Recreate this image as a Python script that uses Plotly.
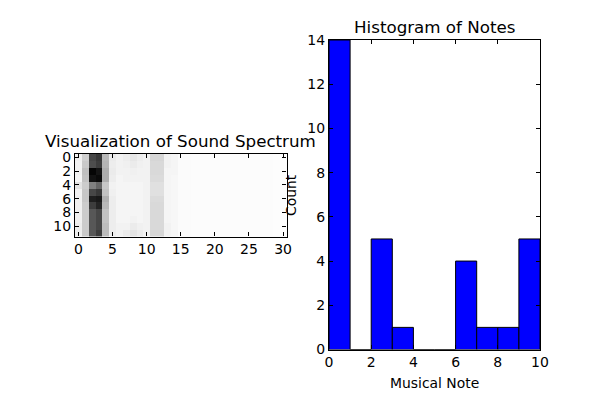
import plotly.graph_objects as go

# Spectrum intensities (0 = white, 1 = black); each row is one spectrogram row
tail = [0.015, 0.015, 0.012, 0.012, 0.012, 0.012, 0.01, 0.01, 0.01, 0.012, 0.012, 0.01, 0.01, 0.01, 0.008, 0.008]
row_0 = [0.06, 0.19, 0.72, 0.78, 0.28, 0.08, 0.05, 0.07, 0.10, 0.07, 0.05, 0.16, 0.16, 0.05, 0.04] + tail
row_1 = [0.05, 0.21, 0.70, 0.76, 0.29, 0.07, 0.05, 0.06, 0.08, 0.06, 0.05, 0.15, 0.15, 0.05, 0.04] + tail
row_2 = [0.05, 0.25, 0.98, 0.92, 0.32, 0.08, 0.05, 0.05, 0.06, 0.05, 0.05, 0.15, 0.15, 0.04, 0.04] + tail
row_3 = [0.04, 0.24, 0.93, 0.96, 0.32, 0.07, 0.04, 0.05, 0.05, 0.05, 0.05, 0.14, 0.14, 0.04, 0.03] + tail
row_4 = [0.11, 0.20, 0.50, 0.60, 0.22, 0.05, 0.04, 0.04, 0.04, 0.04, 0.05, 0.12, 0.12, 0.04, 0.03] + tail
row_5 = [0.05, 0.22, 0.72, 0.78, 0.24, 0.06, 0.04, 0.04, 0.04, 0.04, 0.05, 0.12, 0.12, 0.04, 0.03] + tail
row_6 = [0.06, 0.22, 0.88, 0.90, 0.31, 0.07, 0.04, 0.04, 0.04, 0.04, 0.05, 0.14, 0.14, 0.04, 0.03] + tail
row_7 = [0.06, 0.20, 0.76, 0.86, 0.28, 0.07, 0.04, 0.04, 0.04, 0.04, 0.05, 0.15, 0.15, 0.04, 0.03] + tail
row_8 = [0.06, 0.20, 0.66, 0.72, 0.24, 0.07, 0.04, 0.04, 0.04, 0.04, 0.05, 0.15, 0.15, 0.04, 0.03] + tail
row_9 = [0.06, 0.20, 0.66, 0.72, 0.24, 0.07, 0.04, 0.04, 0.05, 0.04, 0.05, 0.15, 0.15, 0.04, 0.03] + tail
row_10 = [0.07, 0.20, 0.66, 0.72, 0.26, 0.07, 0.05, 0.05, 0.08, 0.06, 0.05, 0.15, 0.15, 0.05, 0.03] + tail
row_11 = [0.07, 0.21, 0.66, 0.76, 0.27, 0.07, 0.05, 0.08, 0.11, 0.08, 0.05, 0.16, 0.16, 0.05, 0.04] + tail
spectrum = [row_0, row_1, row_2, row_3, row_4, row_5, row_6, row_7, row_8, row_9, row_10, row_11]

# Histogram of notes
bin_left = [0, 1, 2, 3, 4, 5, 6, 7, 8, 9]
counts = [14, 0, 5, 1, 0, 0, 4, 1, 1, 5]
bin_centers = [b + 0.5 for b in bin_left]

FONT = "DejaVu Sans"
W, H = 600, 400

fig = go.Figure()
fig.add_trace(go.Heatmap(z=spectrum, zmin=0, zmax=1,
                         colorscale=[[0, "#ffffff"], [1, "#000000"]],
                         showscale=False, xaxis="x", yaxis="y"))
fig.add_trace(go.Bar(x=bin_centers, y=counts, width=1,
                     marker=dict(color="#0000ff", line=dict(color="#000000", width=1)),
                     xaxis="x2", yaxis="y2"))

axis_common = dict(showgrid=False, zeroline=False, showline=True, linecolor="black", linewidth=1.2,
                   mirror="ticks", ticks="inside", ticklen=4, tickwidth=1, tickcolor="black",
                   automargin=False, tickfont=dict(family=FONT, size=14, color="black"))


def label(text, x, y, size, angle=0):
    return dict(text=text, xref="paper", yref="paper", x=x / W, y=1 - y / H, xanchor="center",
                yanchor="middle", showarrow=False, textangle=angle,
                font=dict(family=FONT, size=size, color="black"))


fig.update_layout(
    width=W, height=H, margin=dict(l=0, r=0, t=0, b=0),
    paper_bgcolor="white", plot_bgcolor="white", showlegend=False,
    xaxis=dict(domain=[75 / W, 286.5 / W], range=[-0.5, 30.5], tickmode="array",
               tickvals=[0, 5, 10, 15, 20, 25, 30], anchor="y", **axis_common),
    yaxis=dict(domain=[1 - 236.5 / H, 1 - 154 / H], range=[11.5, -0.5], tickmode="array",
               tickvals=[0, 2, 4, 6, 8, 10], anchor="x", **axis_common),
    xaxis2=dict(domain=[329 / W, 540 / W], range=[0, 10], tickmode="array",
                tickvals=[0, 2, 4, 6, 8, 10], anchor="y2", **axis_common),
    yaxis2=dict(domain=[1 - 349.5 / H, 1 - 40 / H], range=[0, 14], tickmode="array",
                tickvals=[0, 2, 4, 6, 8, 10, 12, 14], anchor="x2", **axis_common),
    annotations=[
        label("Visualization of Sound Spectrum", 180.5, 141, 16.7),
        label("Histogram of Notes", 434.5, 27, 16.7),
        label("Musical Note", 434.5, 383, 13.9),
        label("Count", 291, 195, 13.9, -90),
    ],
)
fig.write_html("out.html", config={"displayModeBar": False},
               post_script="document.body.style.margin='0';")
